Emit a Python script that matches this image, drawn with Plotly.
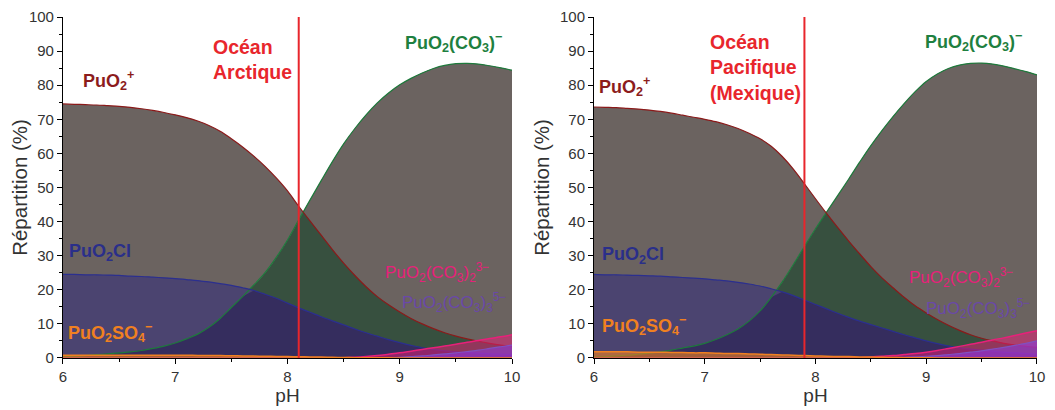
import numpy as np
import plotly.graph_objects as go

# pH grid shared by both panels
PH = [6.0, 6.1, 6.2, 6.3, 6.4, 6.5, 6.6, 6.7, 6.8, 6.9,
      7.0, 7.1, 7.2, 7.3, 7.4, 7.5, 7.6, 7.7, 7.8, 7.9,
      8.0, 8.1, 8.2, 8.3, 8.4, 8.5, 8.6, 8.7, 8.8, 8.9,
      9.0, 9.1, 9.2, 9.3, 9.4, 9.5, 9.6, 9.7, 9.8, 9.9, 10.0]

# Océan Arctique (left panel), % of Pu(V)
ARC_PUO2 = [74.5, 74.4, 74.3, 74.2, 74.0, 73.8, 73.5, 73.1, 72.6, 72.0,
            71.3, 70.5, 69.5, 68.2, 66.5, 64.3, 61.9, 59.2, 56.2, 52.8,
            49.0, 44.5, 40.2, 36.0, 31.8, 27.8, 24.2, 20.9, 18.0, 15.6,
            13.5, 11.6, 10.0, 8.6, 7.4, 6.4, 5.6, 4.9, 4.3, 3.8, 3.4]
ARC_CO3 = [0.3, 0.5, 0.7, 1.0, 1.2, 1.5, 1.8, 2.2, 2.8, 3.5,
           4.4, 5.6, 7.0, 9.0, 11.6, 14.8, 18.0, 21.4, 25.0, 29.5,
           34.6, 40.5, 46.3, 52.0, 57.6, 62.8, 67.3, 71.3, 74.8, 77.7,
           80.1, 82.0, 83.6, 84.9, 85.8, 86.3, 86.4, 86.2, 85.7, 85.1, 84.4]
ARC_CL = [24.5, 24.5, 24.4, 24.4, 24.3, 24.2, 24.0, 23.9, 23.7, 23.5,
          23.3, 23.0, 22.7, 22.3, 21.8, 21.3, 20.6, 19.8, 18.7, 17.5,
          16.1, 14.7, 13.4, 12.1, 10.9, 9.7, 8.5, 7.4, 6.4, 5.4,
          4.5, 3.7, 3.0, 2.5, 2.1, 1.8, 1.6, 1.4, 1.2, 1.1, 1.0]
ARC_CO3_2 = [0, 0, 0, 0, 0, 0, 0, 0, 0, 0,
             0, 0, 0, 0, 0, 0, 0, 0, 0, 0,
             0, 0, 0, 0, 0, 0.1, 0.2, 0.4, 0.7, 1.1,
             1.5, 2.0, 2.5, 3.0, 3.5, 4.0, 4.6, 5.1, 5.7, 6.2, 6.8]
ARC_CO3_3 = [0, 0, 0, 0, 0, 0, 0, 0, 0, 0,
             0, 0, 0, 0, 0, 0, 0, 0, 0, 0,
             0, 0, 0, 0, 0, 0, 0, 0, 0, 0.1,
             0.2, 0.4, 0.6, 0.9, 1.2, 1.5, 1.9, 2.3, 2.8, 3.3, 3.8]
ARC_SO4 = [0.8, 0.8, 0.8, 0.8, 0.8, 0.8, 0.8, 0.8, 0.8, 0.8,
           0.8, 0.8, 0.75, 0.7, 0.7, 0.65, 0.6, 0.55, 0.5, 0.45,
           0.4, 0.35, 0.3, 0.25, 0.2, 0.15, 0.1, 0.1, 0.05, 0.05,
           0, 0, 0, 0, 0, 0, 0, 0, 0, 0, 0]
ARC_PH_OCEAN = 8.1

# Océan Pacifique (Mexique) (right panel)
PAC_PUO2 = [73.6, 73.5, 73.4, 73.2, 73.0, 72.7, 72.3, 71.8, 71.2, 70.6,
            70.0, 69.3, 68.4, 67.3, 65.9, 64.3, 62.1, 59.1, 55.4, 51.1,
            46.7, 42.4, 38.3, 34.3, 30.5, 26.8, 23.5, 20.6, 17.8, 15.3,
            13.2, 11.3, 9.6, 8.1, 6.8, 5.8, 5.0, 4.3, 3.8, 3.4, 3.1]
PAC_CO3 = [0.3, 0.4, 0.6, 0.8, 1.1, 1.4, 1.8, 2.3, 2.9, 3.5,
           4.3, 5.4, 6.8, 8.5, 10.8, 13.8, 17.8, 22.3, 27.4, 32.7,
           37.9, 42.8, 47.6, 52.5, 57.5, 62.3, 66.7, 70.8, 74.6, 78.1,
           81.1, 83.3, 84.9, 85.9, 86.4, 86.5, 86.2, 85.6, 84.8, 84.0, 83.0]
PAC_CL = [24.5, 24.4, 24.4, 24.3, 24.2, 24.1, 24.0, 23.8, 23.6, 23.4,
          23.2, 22.9, 22.6, 22.2, 21.7, 21.1, 20.3, 19.4, 18.3, 17.0,
          15.7, 14.4, 13.1, 11.9, 10.8, 9.8, 8.8, 7.8, 6.8, 5.9,
          5.0, 4.2, 3.5, 3.0, 2.6, 2.3, 2.0, 1.7, 1.5, 1.3, 1.1]
PAC_CO3_2 = [0, 0, 0, 0, 0, 0, 0, 0, 0, 0,
             0, 0, 0, 0, 0, 0, 0, 0, 0, 0,
             0, 0, 0, 0.05, 0.1, 0.3, 0.5, 0.7, 1.0, 1.3,
             1.7, 2.2, 2.8, 3.4, 4.0, 4.6, 5.3, 5.9, 6.6, 7.3, 8.0]
PAC_CO3_3 = [0, 0, 0, 0, 0, 0, 0, 0, 0, 0,
             0, 0, 0, 0, 0, 0, 0, 0, 0, 0,
             0, 0, 0, 0, 0, 0, 0, 0.1, 0.2, 0.3,
             0.5, 0.7, 1.0, 1.3, 1.7, 2.1, 2.6, 3.1, 3.7, 4.3, 5.0]
PAC_SO4 = [1.8, 1.8, 1.8, 1.8, 1.7, 1.7, 1.7, 1.6, 1.6, 1.5,
           1.5, 1.4, 1.3, 1.3, 1.2, 1.1, 1.0, 0.9, 0.8, 0.7,
           0.6, 0.5, 0.45, 0.4, 0.3, 0.25, 0.2, 0.15, 0.1, 0.1,
           0.05, 0, 0, 0, 0, 0, 0, 0, 0, 0, 0]
PAC_PH_OCEAN = 7.9

GRAY = "#6b6360"
GREEN_OVERLAP = "#37503f"
CL_FILL = "#4b4470"
CL_DARK = "#352d5e"
RED = "#e8262c"
FONT = "Arial, Liberation Sans, sans-serif"


def add_panel(fig, n, puo2, co3, cl, co3_2, co3_3, so4):
    xa, ya = f"x{n}", f"y{n}"
    cl_ov = np.minimum(cl, co3)

    def trace(y, line=None, width=0, fill=None, fillcolor=None, shape="spline"):
        fig.add_trace(go.Scatter(
            x=PH, y=y, mode="lines", xaxis=xa, yaxis=ya, line_shape=shape,
            line=dict(color=line or "rgba(0,0,0,0)", width=width),
            fill=fill, fillcolor=fillcolor, showlegend=False, hoverinfo="skip",
        ))

    # CO3- area, green wherever it sits under PuO2+ as well
    trace(co3, fill="tozeroy", fillcolor=GREEN_OVERLAP)
    # grey between PuO2+ and CO3- (either one alone)
    trace(puo2)
    trace(co3, fill="tonexty", fillcolor=GRAY)
    # PuO2Cl area, darker where CO3- overlaps it
    trace(cl, fill="tozeroy", fillcolor=CL_FILL)
    trace(cl_ov, fill="tozeroy", fillcolor=CL_DARK, shape="linear")
    # outlines
    trace(co3, "#1e7a3c", 1.2)
    trace(puo2, "#8b1a1a", 1.2)
    trace(cl, "#2b2f8f", 1.2)
    trace(co3_2, "#e8207a", 1.5, "tozeroy", "rgba(235,30,120,0.5)")
    trace(co3_3, "#8050c0", 1.2, "tozeroy", "rgba(140,60,220,0.6)")
    trace(so4, "#f08020", 1.5, "tozeroy", "rgba(240,128,32,0.6)")


fig = go.Figure()
add_panel(fig, "", ARC_PUO2, ARC_CO3, ARC_CL, ARC_CO3_2, ARC_CO3_3, ARC_SO4)
add_panel(fig, 2, PAC_PUO2, PAC_CO3, PAC_CL, PAC_CO3_2, PAC_CO3_3, PAC_SO4)

for xref, yref, ph in (("x", "y", ARC_PH_OCEAN), ("x2", "y2", PAC_PH_OCEAN)):
    fig.add_shape(type="line", xref=xref, yref=yref, x0=ph, x1=ph, y0=0, y1=100,
                  line=dict(color=RED, width=2), layer="above")

axis_common = dict(
    showline=True, linecolor="black", linewidth=1, ticks="outside", ticklen=5,
    tickcolor="black", showgrid=False, zeroline=False, automargin=False,
    tickfont=dict(size=15, color="#333", family=FONT),
)
xaxis = dict(axis_common, range=[6, 10], tickvals=[6, 7, 8, 9, 10],
             minor=dict(ticks="outside", ticklen=3, dtick=0.5, tickcolor="black"),
             title=dict(text="pH", font=dict(size=19, color="#333", family=FONT), standoff=0))
yaxis = dict(axis_common, range=[0, 100], dtick=10,
             minor=dict(ticks="outside", ticklen=3, dtick=5, tickcolor="black"),
             title=dict(text="Répartition (%)", font=dict(size=20.5, color="#333", family=FONT), standoff=4))

labels = [
    ("PuO<sub>2</sub><sup>+</sup>", "#8c1c1c", True),
    ("PuO<sub>2</sub>(CO<sub>3</sub>)<sup>−</sup>", "#1e8040", True),
    ("PuO<sub>2</sub>Cl", "#2a2f8a", True),
    ("PuO<sub>2</sub>(CO<sub>3</sub>)<sub>2</sub><sup>3−</sup>", "#e8207a", False),
    ("PuO<sub>2</sub>(CO<sub>3</sub>)<sub>3</sub><sup>5−</sup>", "#6a48a8", False),
    ("PuO<sub>2</sub>SO<sub>4</sub><sup>−</sup>", "#f08020", True),
]
label_pos_l = [(6.16, 81.5), (9.03, 92.4), (6.04, 30.8), (8.85, 25.2), (9.0, 16.4), (6.03, 7.6)]
label_pos_r = [(6.03, 79.5), (8.97, 92.7), (6.05, 30.0), (8.83, 23.7), (8.98, 14.4), (6.05, 9.4)]

annotations = []
for (txt, col, bold), pl, pr in zip(labels, label_pos_l, label_pos_r):
    for xref, yref, (xx, yy) in (("x", "y", pl), ("x2", "y2", pr)):
        annotations.append(dict(
            text=f"<b>{txt}</b>" if bold else txt, x=xx, y=yy, xref=xref, yref=yref,
            xanchor="left", yanchor="middle", showarrow=False,
            font=dict(size=18 if bold else 17, color=col, family=FONT),
        ))
annotations.append(dict(text="<b>Océan<br>Arctique</b>", x=7.32, y=95, xref="x", yref="y",
                        xanchor="left", yanchor="top", align="left", showarrow=False,
                        font=dict(size=19.5, color=RED, family=FONT)))
annotations.append(dict(text="<b>Océan<br>Pacifique<br>(Mexique)</b>", x=7.03, y=96.5, xref="x2", yref="y2",
                        xanchor="left", yanchor="top", align="left", showarrow=False,
                        font=dict(size=19.5, color=RED, family=FONT)))

# the page body adds an 8 px margin, so the figure is 8 px smaller each way
fig.update_layout(
    width=1047, height=402,
    margin=dict(l=0, r=0, t=0, b=0),
    paper_bgcolor="white", plot_bgcolor="white",
    xaxis=dict(xaxis, domain=[0.0525, 0.4814], anchor="y"),
    yaxis=dict(yaxis, domain=[0.1294, 0.9776], anchor="x"),
    xaxis2=dict(xaxis, domain=[0.5597, 0.9828], anchor="y2"),
    yaxis2=dict(yaxis, domain=[0.1294, 0.9776], anchor="x2"),
    annotations=annotations,
)

fig.write_html("out.html")
